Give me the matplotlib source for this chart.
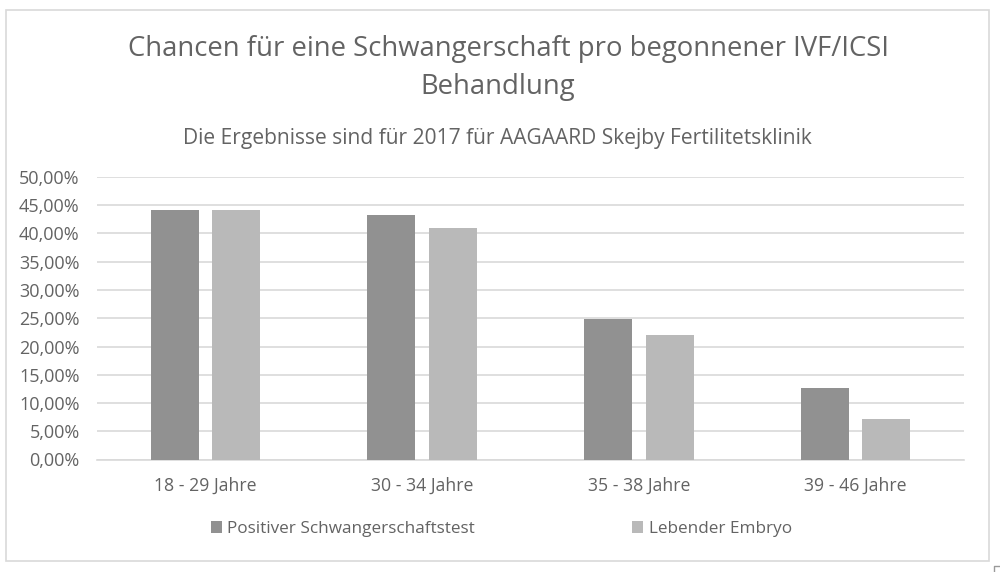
"""Grouped bar chart of IVF/ICSI pregnancy chances by age group."""

import matplotlib

matplotlib.use("Agg")
import matplotlib.pyplot as plt
from matplotlib.patches import Rectangle
from matplotlib.ticker import FuncFormatter

AGE_GROUPS = ["18 - 29 Jahre", "30 - 34 Jahre", "35 - 38 Jahre", "39 - 46 Jahre"]
POSITIVE_TEST = [44.2, 43.3, 24.8, 12.7]
LIVE_EMBRYO = [44.2, 41.0, 22.1, 7.1]
Y_TICKS = [0, 5, 10, 15, 20, 25, 30, 35, 40, 45, 50]

WIDTH_PX = 1000
HEIGHT_PX = 572
TEXT_COLOR = "#636363"
GRID_COLOR = "#d9d9d9"
BAR_WIDTH = 0.222
BAR_OFFSET = 0.142

plt.rcParams["font.family"] = ["Open Sans", "DejaVu Sans"]

fig = plt.figure(figsize=(WIDTH_PX / 100, HEIGHT_PX / 100), dpi=100)
ax = fig.add_axes(
    [97 / WIDTH_PX, 1 - 459.5 / HEIGHT_PX, 867 / WIDTH_PX, 282.5 / HEIGHT_PX]
)

# outer chart frame, plus the small resize handle at the bottom right corner
fig.add_artist(
    Rectangle(
        (6 / WIDTH_PX, 1 - 561 / HEIGHT_PX),
        983 / WIDTH_PX,
        551 / HEIGHT_PX,
        transform=fig.transFigure,
        fill=False,
        edgecolor=GRID_COLOR,
        linewidth=1.2,
    )
)
fig.add_artist(
    plt.Line2D(
        [994 / WIDTH_PX, 994 / WIDTH_PX, 1000 / WIDTH_PX],
        [1 - 572 / HEIGHT_PX, 1 - 566 / HEIGHT_PX, 1 - 566 / HEIGHT_PX],
        transform=fig.transFigure,
        color="#9a9a9a",
        linewidth=1,
    )
)

positions = range(len(AGE_GROUPS))
ax.bar(
    [p - BAR_OFFSET for p in positions],
    POSITIVE_TEST,
    width=BAR_WIDTH,
    color="#919191",
    label="Positiver Schwangerschaftstest",
    zorder=3,
)
ax.bar(
    [p + BAR_OFFSET for p in positions],
    LIVE_EMBRYO,
    width=BAR_WIDTH,
    color="#b9b9b9",
    label="Lebender Embryo",
    zorder=3,
)

ax.set_xlim(-0.5, 3.5)
ax.set_ylim(0, 50)
ax.set_xticks(list(positions))
ax.set_xticklabels(AGE_GROUPS)
ax.set_yticks(Y_TICKS)
ax.yaxis.set_major_formatter(FuncFormatter(lambda v, _: f"{v:.2f}%".replace(".", ",")))
ax.tick_params(axis="y", length=0, labelsize=13, labelcolor=TEXT_COLOR, pad=12.5)
ax.tick_params(axis="x", length=0, labelsize=12.7, labelcolor=TEXT_COLOR, pad=12.5)
ax.grid(axis="y", color=GRID_COLOR, linewidth=1.2, zorder=0)
ax.set_axisbelow(True)
for side in ["top", "right", "left"]:
    ax.spines[side].set_visible(False)
ax.spines["bottom"].set_color(GRID_COLOR)
ax.spines["bottom"].set_linewidth(1.2)

# the two title lines are not centred on each other in the reference
fig.text(
    508 / WIDTH_PX,
    1 - 49 / HEIGHT_PX,
    "Chancen für eine Schwangerschaft pro begonnener IVF/ICSI",
    ha="center",
    va="center",
    fontsize=19.8,
    color=TEXT_COLOR,
)
fig.text(
    497.5 / WIDTH_PX,
    1 - 87 / HEIGHT_PX,
    "Behandlung",
    ha="center",
    va="center",
    fontsize=19.8,
    color=TEXT_COLOR,
)
fig.text(
    497.5 / WIDTH_PX,
    1 - 138.5 / HEIGHT_PX,
    "Die Ergebnisse sind für 2017 für AAGAARD Skejby Fertilitetsklinik",
    ha="center",
    va="center",
    fontsize=15.1,
    color=TEXT_COLOR,
)

fig.legend(
    loc="center",
    bbox_to_anchor=(501.5 / WIDTH_PX, 1 - 529 / HEIGHT_PX),
    ncol=2,
    frameon=False,
    fontsize=12.3,
    labelcolor=TEXT_COLOR,
    handlelength=0.65,
    handleheight=0.65,
    handletextpad=0.3,
    columnspacing=9.2,
)

fig.savefig("out.png", dpi=100, facecolor="white")
